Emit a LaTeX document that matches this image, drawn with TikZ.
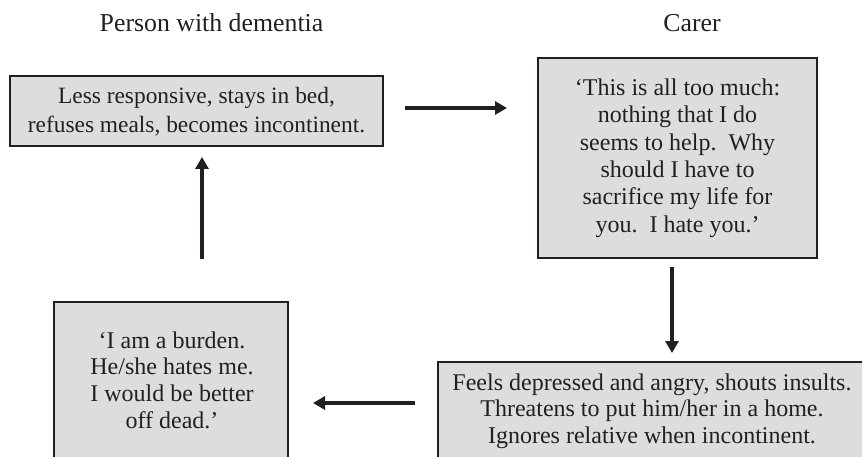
\documentclass[tikz,border=0pt]{standalone}
\usepackage{fontspec}
\setmainfont{Liberation Serif}
\usetikzlibrary{arrows.meta}
\definecolor{boxfill}{HTML}{DCDDDF}
\definecolor{ink}{HTML}{231F20}
\begin{document}
\begin{tikzpicture}[x=1pt,y=-1pt,
  box/.style={draw=ink, fill=boxfill, line width=2.6pt, rectangle, inner sep=0pt,
    align=center, text=ink, font=\fontsize{24}{27.4}\selectfont},
  boxtext/.style={text=ink, align=center, inner sep=0pt},
  head/.style={text=ink, font=\fontsize{25.8}{28}\selectfont, inner sep=0pt},
  arr/.style={draw=ink, line width=3.2pt, -{Triangle[length=12pt,width=13pt]}}]
\useasboundingbox (0,0) rectangle (862,457);
\clip (0,0) rectangle (862,457);
\fill[white] (0,0) rectangle (862,457);

\node[head] (h1) at (211.5,23) {Person with dementia};
\node[head] (h2) at (692,23) {Carer};

\node[box, minimum width=373pt, minimum height=70pt] (A) at (196.5,111) {};
\node[boxtext, font=\fontsize{23.4}{29}\selectfont] (At) at (196.5,112)
  {Less responsive, stays in bed,\\refuses meals, becomes incontinent.};
\node[box, minimum width=279pt, minimum height=200pt] (B) at (677.5,158)
  {`This is all too much:\\nothing that I do\\seems to help.\ \ Why\\should I have to\\sacrifice my life for\\you.\ \ I hate you.'};
\node[box, minimum width=428pt, minimum height=98pt] (C) at (652,411) {};
\node[boxtext, font=\fontsize{24}{26.5}\selectfont] (Ct) at (652,411)
  {Feels depressed and angry, shouts insults.\\Threatens to put him/her in a home.\\Ignores relative when incontinent.};
\node[box, minimum width=234pt, minimum height=158pt] (D) at (171,381) {};
\node[boxtext, font=\fontsize{24}{26.7}\selectfont] (Dt) at (172,380)
  {`I am a burden.\\He/she hates me.\\I would be better\\off dead.'};

\coordinate (a1) at (405,108);
\coordinate (a2) at (507,108);
\coordinate (b1) at (672,267);
\coordinate (b2) at (672,353);
\coordinate (c1) at (415,403);
\coordinate (c2) at (313,403);
\coordinate (d1) at (202,259);
\coordinate (d2) at (202,157);

\draw[arr] (a1) -- (a2);
\draw[arr] (b1) -- (b2);
\draw[arr] (c1) -- (c2);
\draw[arr] (d1) -- (d2);
\end{tikzpicture}
\end{document}
